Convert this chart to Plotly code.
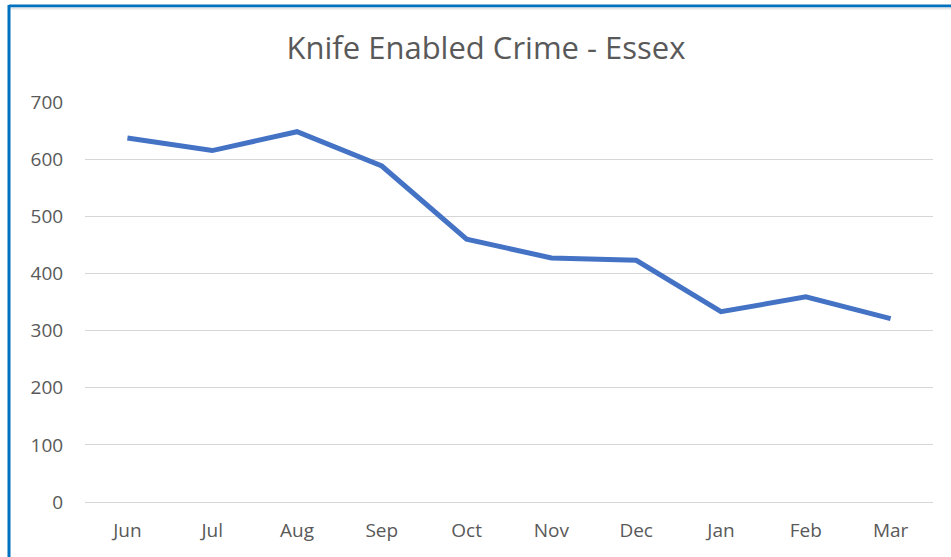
import plotly.graph_objects as go

months = ["Jun", "Jul", "Aug", "Sep", "Oct", "Nov", "Dec", "Jan", "Feb", "Mar"]
crimes = [637, 615, 648, 588, 460, 427, 423, 333, 359, 321]
y_ticks = [0, 100, 200, 300, 400, 500, 600, 700]

W, H = 951, 557
L, R, T, B = 85, 18, 102, 55
pw, ph = W - L - R, H - T - B

def px(x):
    return (x - L) / pw

def py(y):
    return (H - B - y) / ph

fig = go.Figure()
fig.add_trace(go.Scatter(
    x=months, y=crimes, mode="lines",
    line=dict(color="#4472C4", width=5),
    hoverinfo="x+y",
))

fig.update_layout(
    width=W, height=H,
    margin=dict(l=L, r=R, t=T, b=B),
    paper_bgcolor="white", plot_bgcolor="white",
    showlegend=False,
    font=dict(family="Open Sans, Noto Sans, sans-serif", color="#595959", size=19),
    title=dict(text="Knife Enabled Crime - Essex", x=px(486), xanchor="center",
               y=1 - 48 / H, yanchor="middle", xref="paper",
               font=dict(size=31, color="#595959")),
    xaxis=dict(showgrid=False, showline=False, zeroline=False,
               range=[-0.5, len(months) - 0.5],
               ticks="outside", ticklen=11, tickcolor="white",
               tickfont=dict(size=19, color="#595959")),
    yaxis=dict(range=[0, 700], tickvals=y_ticks, showgrid=True,
               gridcolor="#d6d6d6", gridwidth=1, zeroline=True,
               zerolinecolor="#d6d6d6", zerolinewidth=1, showline=False,
               ticks="outside", ticklen=17, tickcolor="white",
               tickfont=dict(size=19, color="#595959")),
    shapes=[
        dict(type="line", xref="paper", yref="paper",
             x0=px(9), x1=px(W + 5), y0=py(6), y1=py(6),
             line=dict(color="#0070C0", width=3)),
        dict(type="line", xref="paper", yref="paper",
             x0=px(9), x1=px(W + 5), y0=py(8.5), y1=py(8.5),
             line=dict(color="#e6e6e6", width=2)),
        dict(type="line", xref="paper", yref="paper",
             x0=px(9), x1=px(9), y0=py(5), y1=py(H + 5),
             line=dict(color="#0070C0", width=3)),
    ],
)

fig.write_html("out.html", config={"displayModeBar": False},
               post_script="document.body.style.margin='0';document.body.style.overflow='hidden';")
